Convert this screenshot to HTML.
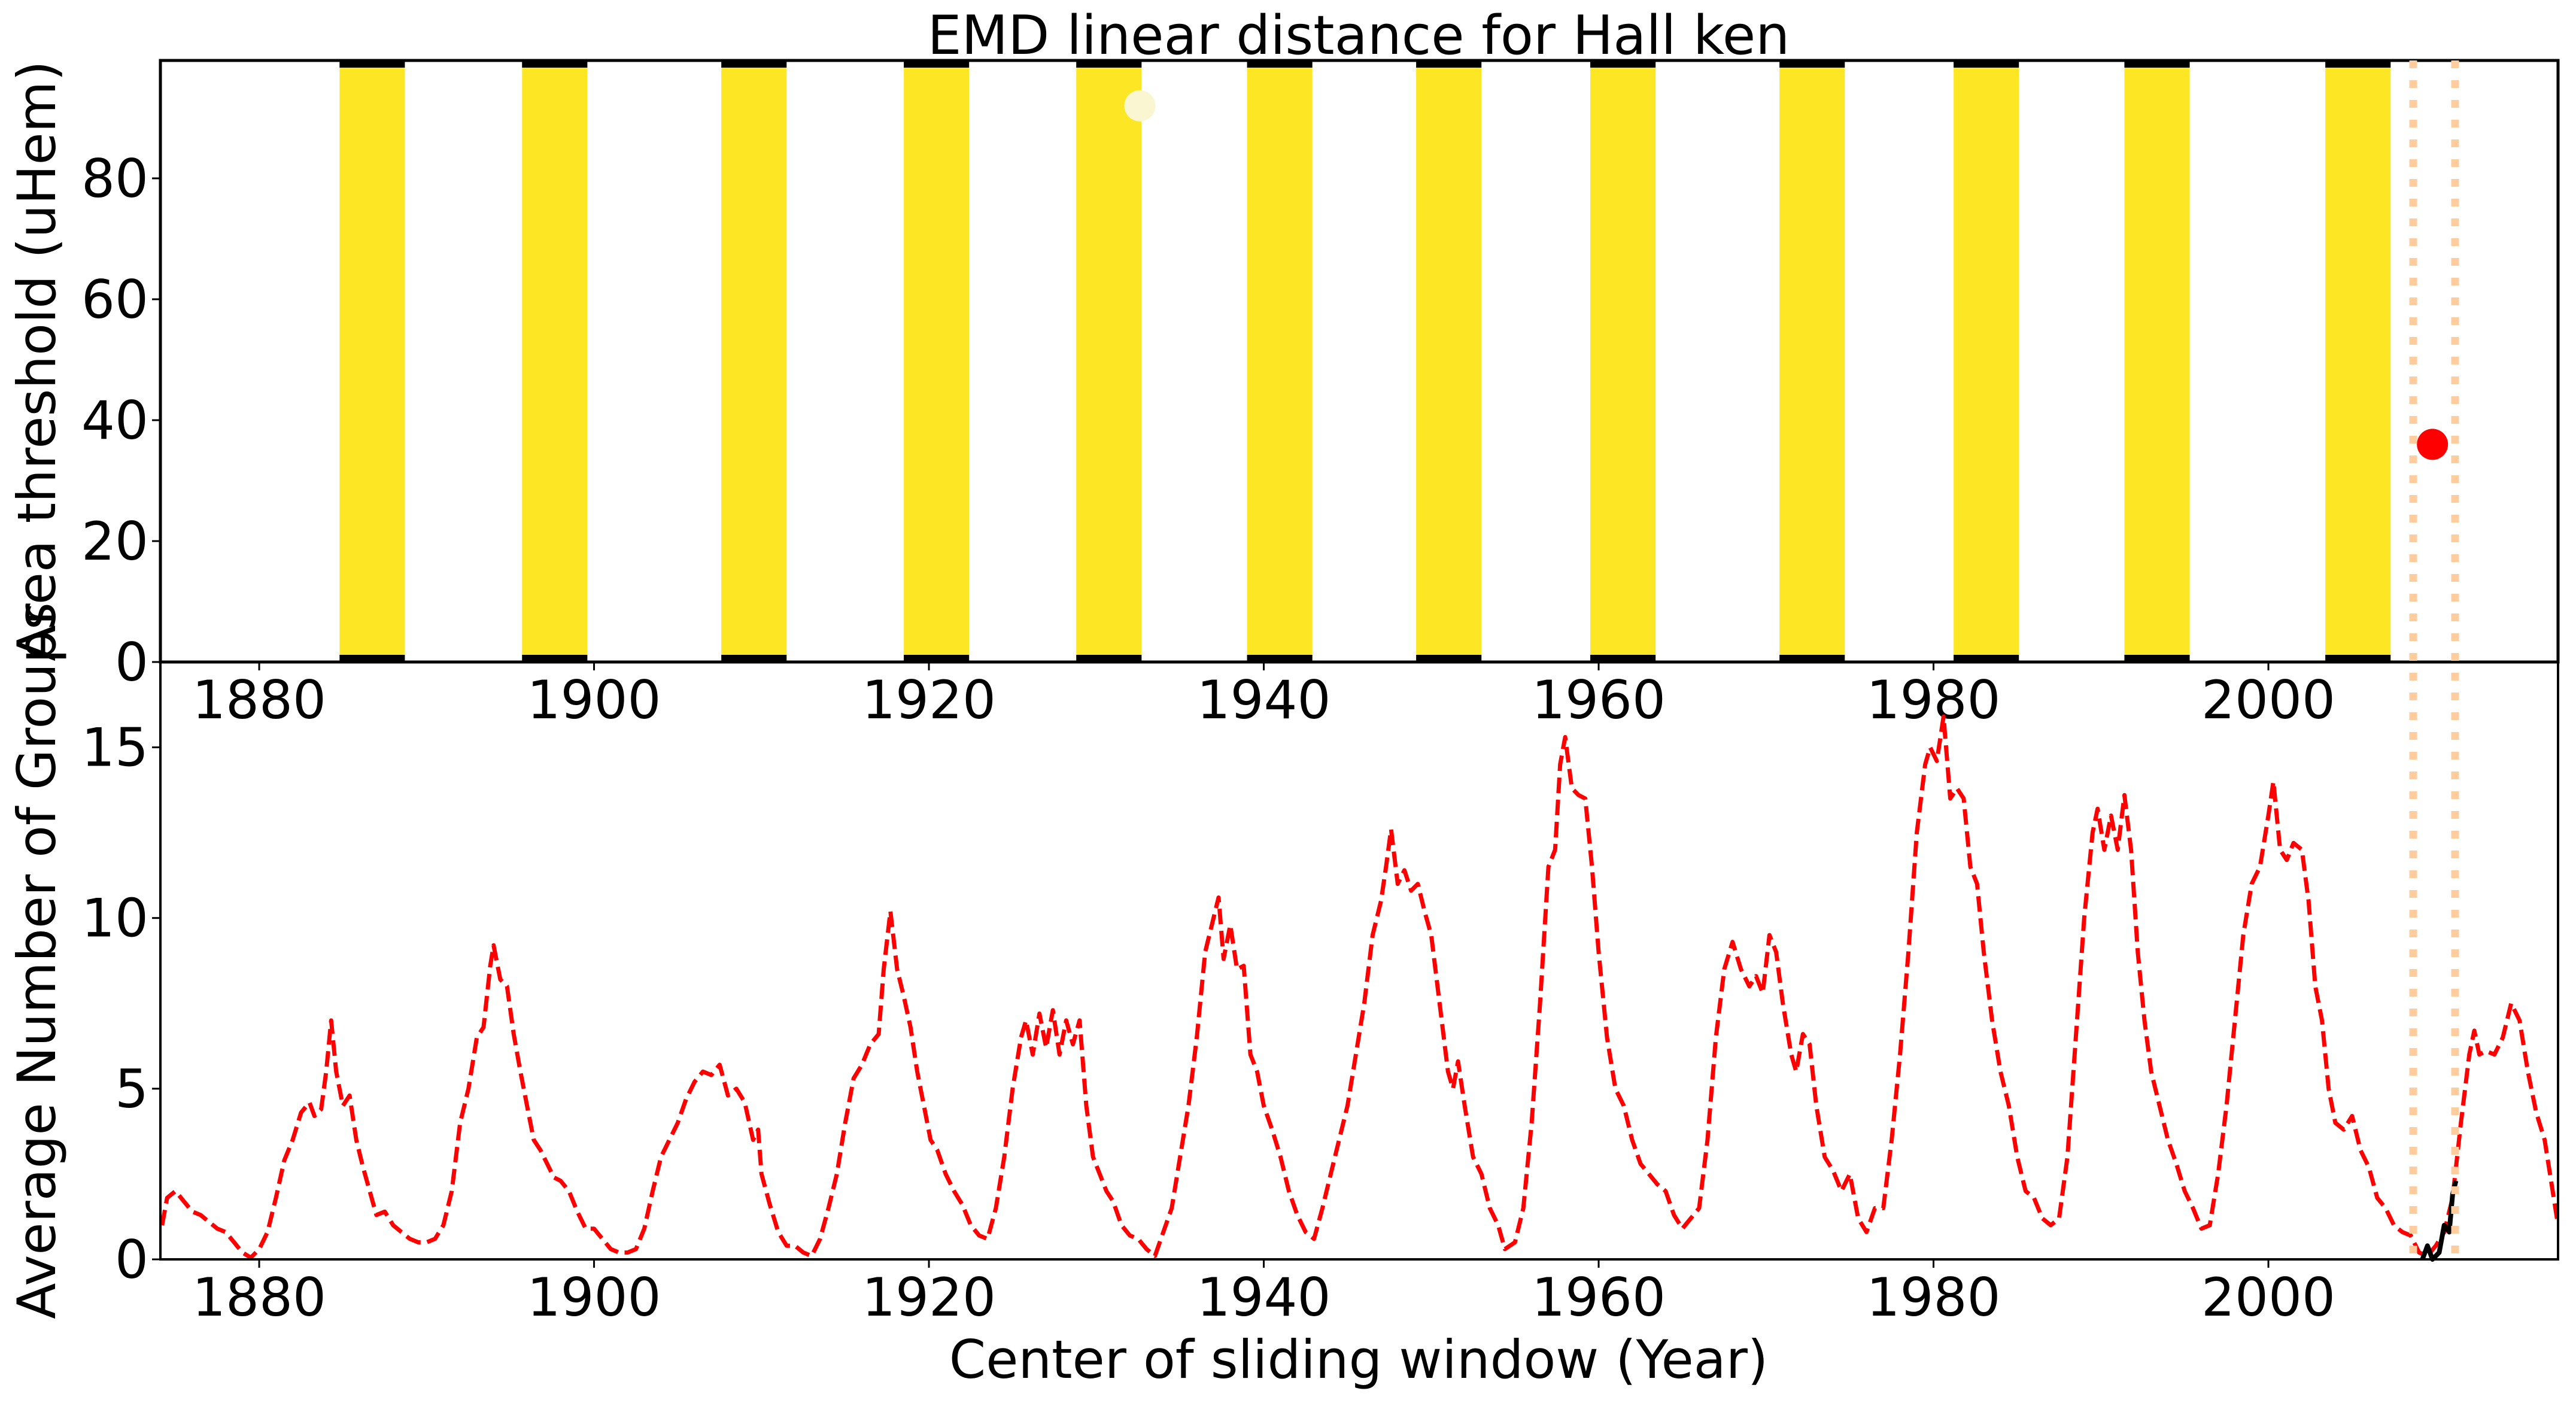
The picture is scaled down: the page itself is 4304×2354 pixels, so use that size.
<!DOCTYPE html>
<html><head><meta charset="utf-8"><style>
html,body{margin:0;padding:0;background:#fff;}
svg text{font-family:"DejaVu Sans","Liberation Sans",sans-serif;fill:#000;}
</style></head><body>
<svg id="chart" width="4304" height="2349" viewBox="0 0 4304 2349" xmlns="http://www.w3.org/2000/svg">
<rect width="4304" height="2349" fill="#fff"/>
<g id="topAx"></g>
<g id="botAx"></g>
<text x="2270" y="90" font-size="90" text-anchor="middle">EMD linear distance for Hall ken</text>
<text x="0" y="0" font-size="88" text-anchor="middle" transform="translate(92,603) rotate(-90)">Area threshold (uHem)</text>
<text x="0" y="0" font-size="88" text-anchor="middle" transform="translate(92,1605) rotate(-90)">Average Number of Groups</text>
<text x="2270" y="2302" font-size="88" text-anchor="middle">Center of sliding window (Year)</text>
</svg>
<script>
const bandStarts=[1884.8,1895.7,1907.6,1918.5,1928.8,1939.0,1949.1,1959.5,1970.8,1981.2,1991.4,2003.4];
const bandWidth=3.9;
const xTicks=[1880,1900,1920,1940,1960,1980,2000];
const topYTicks=[0,20,40,60,80];
const botYTicks=[0,5,10,15];
const vlineYears=[2008.65,2011.15];
const redDot=[2009.8,36];
const paleDot=[1932.6,92];
const blackYears=[2009.2,2009.5,2009.8,2010.2,2010.5,2010.8,2011.0,2011.2];
const blackVals=[0,0.4,0,0.2,1.0,0.8,1.9,2.3];
const years=[1874.2,1874.5,1875,1876,1876.5,1877,1877.5,1878,1878.5,1879,1879.5,1880,1880.5,1881,1881.5,1882,1882.5,1883,1883.3,1883.7,1884,1884.3,1884.6,1885,1885.4,1885.8,1886.2,1886.6,1887,1887.5,1888,1888.5,1889,1889.5,1890,1890.5,1891,1891.5,1892,1892.5,1893,1893.4,1893.8,1894,1894.4,1894.8,1895.2,1895.6,1896,1896.4,1896.8,1897.2,1897.6,1898,1898.5,1899,1899.5,1900,1900.5,1901,1901.5,1902,1902.5,1903,1903.5,1904,1904.5,1905,1905.5,1906,1906.5,1907,1907.5,1908,1908.5,1909,1909.5,1909.8,1910,1910.5,1911,1911.5,1912,1912.5,1913,1913.5,1914,1914.5,1915,1915.5,1916,1916.5,1917,1917.3,1917.7,1918.1,1918.5,1918.9,1919.3,1919.7,1920.1,1920.5,1921,1921.5,1922,1922.5,1923,1923.5,1924,1924.5,1925,1925.5,1925.8,1926.2,1926.6,1927,1927.4,1927.8,1928.2,1928.6,1929,1929.4,1929.8,1930.2,1930.6,1931,1931.5,1932,1932.5,1933,1933.5,1934,1934.5,1935,1935.5,1936,1936.5,1937,1937.3,1937.6,1938,1938.4,1938.8,1939.2,1939.6,1940,1940.5,1941,1941.5,1942,1942.5,1943,1943.5,1944,1944.5,1945,1945.5,1946,1946.5,1947,1947.3,1947.6,1948,1948.4,1948.8,1949.2,1949.6,1950,1950.5,1951,1951.3,1951.6,1952,1952.5,1953,1953.5,1954,1954.4,1955,1955.5,1956,1956.5,1957,1957.4,1957.7,1958,1958.4,1958.8,1959.2,1959.6,1960,1960.5,1961,1961.5,1962,1962.5,1963,1963.5,1964,1964.5,1965,1965.5,1966,1966.5,1967,1967.5,1968,1968.5,1969,1969.4,1969.8,1970.2,1970.6,1971,1971.5,1971.8,1972.2,1972.6,1973,1973.5,1974,1974.5,1975,1975.5,1976,1976.5,1977,1977.5,1978,1978.5,1979,1979.5,1979.8,1980.2,1980.6,1981,1981.4,1981.8,1982.2,1982.6,1983,1983.5,1984,1984.5,1985,1985.5,1986,1986.5,1987,1987.5,1988,1988.5,1989,1989.5,1989.8,1990.2,1990.6,1991,1991.4,1991.8,1992.2,1992.6,1993,1993.5,1994,1994.5,1995,1995.5,1996,1996.5,1997,1997.5,1998,1998.5,1999,1999.5,2000,2000.3,2000.7,2001.1,2001.5,2002,2002.4,2002.8,2003.2,2003.6,2004,2004.5,2005,2005.5,2006,2006.5,2007,2007.5,2008,2008.5,2009,2009.5,2010,2010.5,2011,2011.5,2012,2012.3,2012.6,2013,2013.5,2014,2014.5,2015,2015.5,2016,2016.5,2017.3];
const groups=[1.0,1.8,2.0,1.4,1.3,1.1,0.9,0.8,0.5,0.2,0.05,0.3,0.8,1.8,2.9,3.5,4.3,4.6,4.2,4.4,5.5,7.0,5.5,4.5,4.8,3.5,2.7,2.0,1.3,1.4,1.0,0.8,0.6,0.5,0.5,0.6,1.0,2.0,4.0,5.0,6.5,6.8,8.6,9.2,8.2,8.0,6.6,5.5,4.5,3.5,3.2,2.8,2.4,2.3,2.0,1.4,0.9,0.9,0.6,0.3,0.2,0.2,0.3,0.9,2.0,3.0,3.5,4.0,4.7,5.2,5.5,5.4,5.7,4.8,5.0,4.6,3.5,3.8,2.5,1.6,0.8,0.4,0.4,0.2,0.1,0.6,1.5,2.5,4.0,5.3,5.7,6.3,6.6,8.5,10.2,8.5,7.7,6.8,5.5,4.5,3.5,3.2,2.5,2.0,1.6,1.0,0.7,0.6,1.5,3.0,5.0,6.5,7.0,6.0,7.2,6.2,7.3,6.0,7.0,6.3,7.0,4.5,3.0,2.5,2.0,1.7,1.0,0.7,0.6,0.3,0.1,0.8,1.5,3.0,4.5,6.5,9.0,10.0,10.6,8.8,9.8,8.5,8.6,6.0,5.5,4.5,3.8,3.0,2.0,1.3,0.8,0.6,1.5,2.5,3.5,4.5,6.0,7.5,9.5,10.5,11.5,12.6,11.0,11.4,10.8,11.0,10.2,9.5,7.5,5.5,5.0,5.8,4.5,3.0,2.5,1.5,1.0,0.3,0.5,1.5,4.0,7.5,11.5,12.0,14.5,15.3,13.8,13.6,13.5,11.5,9.0,6.5,5.0,4.5,3.5,2.8,2.5,2.2,2.0,1.3,0.9,1.2,1.5,3.5,6.5,8.5,9.3,8.5,8.0,8.3,7.8,9.5,9.0,7.5,6.0,5.5,6.6,6.3,4.5,3.0,2.6,2.0,2.5,1.2,0.8,1.5,1.5,3.5,6.0,9.0,12.5,14.5,15.0,14.6,15.9,13.5,13.8,13.5,11.5,11.0,9.0,7.0,5.5,4.5,3.0,2.0,1.8,1.2,1.0,1.2,3.0,6.5,10.0,12.5,13.2,12.0,13.0,12.0,13.6,12.0,9.0,7.0,5.5,4.5,3.5,2.8,2.0,1.5,0.9,1.0,2.5,4.5,7.0,9.5,11.0,11.5,13.0,14.0,12.0,11.7,12.2,12.0,10.5,8.0,7.0,5.0,4.0,3.8,4.2,3.2,2.7,1.8,1.5,1.0,0.8,0.7,0.2,0.1,0.4,0.8,1.8,4.0,6.0,6.7,6.0,6.1,6.0,6.5,7.5,7.0,5.5,4.3,3.5,1.0];

const NS='http://www.w3.org/2000/svg';
const L=268,R=4274,T1=101,B1=1106,T2=1106,B2=2104;
const XMIN=1874.1,XMAX=2017.3;
const xs=v=>L+(v-XMIN)/(XMAX-XMIN)*(R-L);
const yTop=v=>B1-v/99.5*(B1-T1);
const yBot=v=>B2-v/17.5*(B2-T2);
function mk(tag,attrs,parent){const e=document.createElementNS(NS,tag);for(const k in attrs)e.setAttribute(k,attrs[k]);parent.appendChild(e);return e;}
const gTop=document.getElementById('topAx'),gBot=document.getElementById('botAx');
const svgRoot=document.getElementById('chart');

bandStarts.forEach((s)=>{
  const x0=xs(s),w=xs(s+bandWidth)-x0;
  const r=mk('rect',{x:x0,y:T1,width:w,height:B1-T1,fill:'#fde725'},gTop);
  
  
  const a=mk('rect',{x:x0,y:T1,width:w,height:12,fill:'#000'},gTop);
  
  
  const b=mk('rect',{x:x0,y:B1-12,width:w,height:12,fill:'#000'},gTop);
  
  
});
const pd=mk('circle',{cx:xs(paleDot[0]),cy:yTop(paleDot[1]),r:26,fill:'#fbf6d2'},gTop);


const rd=mk('circle',{cx:xs(redDot[0]),cy:yTop(redDot[1]),r:26,fill:'#ff0000'},gTop);



let d='';years.forEach((yr,i)=>{d+=(i?'L':'M')+xs(yr).toFixed(1)+' '+yBot(groups[i]).toFixed(1);});
const rl=mk('path',{d:d,fill:'none',stroke:'#ff0000','stroke-width':7,'stroke-dasharray':'26 11','stroke-linejoin':'round'},gBot);


let d2='';blackYears.forEach((yr,i)=>{d2+=(i?'L':'M')+xs(yr).toFixed(1)+' '+yBot(blackVals[i]).toFixed(1);});
const bl=mk('path',{d:d2,fill:'none',stroke:'#000','stroke-width':8,'stroke-linejoin':'round'},gBot);



vlineYears.forEach(v=>{
  const l=mk('line',{x1:xs(v),x2:xs(v),y1:T1,y2:B2,stroke:'#ffcc9e','stroke-width':13,'stroke-dasharray':'13 20'},svgRoot);
  
  
});

const f1=mk('rect',{x:L,y:T1,width:R-L,height:B1-T1,fill:'none',stroke:'#000','stroke-width':5},gTop);


const f2=mk('rect',{x:L,y:T2,width:R-L,height:B2-T2,fill:'none',stroke:'#000','stroke-width':4},gBot);



function xt(g,yb,ly){xTicks.forEach(t=>{
  const tk=mk('line',{x1:xs(t),x2:xs(t),y1:yb,y2:yb+14,stroke:'#000','stroke-width':3},g);
  
  
  const tx=mk('text',{x:xs(t),y:ly,'font-size':88,'text-anchor':'middle'},g);
  tx.textContent=t;
  
  
});}
xt(gTop,B1,1200);xt(gBot,B2,2198);
function yt(g,ticks,fy){ticks.forEach(t=>{
  const tk=mk('line',{x1:L-14,x2:L,y1:fy(t),y2:fy(t),stroke:'#000','stroke-width':3},g);
  
  
  const tx=mk('text',{x:L-20,y:fy(t)+31,'font-size':88,'text-anchor':'end'},g);
  tx.textContent=t;
  
  
});}
yt(gTop,topYTicks,yTop);yt(gBot,botYTicks,yBot);
</script>
</body></html>
